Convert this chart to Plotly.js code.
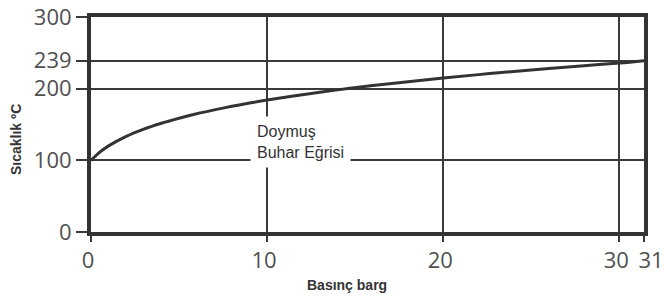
<!DOCTYPE html>
<html><head><meta charset="utf-8">
<script src="https://cdn.plot.ly/plotly-3.0.1.min.js"></script>
<style>html,body{margin:0;padding:0;background:#fff}</style>
</head><body>
<div id="chart" style="width:664px;height:297px"></div>
<script>
// Saturated steam curve
const pressureBarg = [0, 0.5, 1, 2, 3, 4, 5, 6, 7, 8, 9, 10, 12, 14, 16, 18, 20, 22, 24, 26, 28, 30, 31.4];
const temperatureC = [100, 111.4, 120.2, 133.5, 143.6, 151.8, 158.8, 165, 170.4, 175.4, 179.9, 184.1, 191.6, 198.3, 204.3, 209.8, 214.9, 219.6, 224, 228.1, 232, 235.7, 239];
const xTickVals = [0, 10, 20, 30, 31.4];
const xTickText = ["0", "10", "20", "30", ""];
const xEndTickVals = [31.4];
const xEndTickText = ["31"];
const yTickVals = [0, 100, 200, 239, 300];
const yTickText = ["0", "100", "200", "239", "300"];
const lineColor = "#3a3a3a";
const tickFont = {family: "Open Sans", size: 22, color: "#505050"};
const xRange = [0, 31.4];

const curve = {
  x: pressureBarg, y: temperatureC, type: "scatter", mode: "lines",
  line: {color: "#333", width: 3, shape: "spline"}, hoverinfo: "skip"
};
const endHelper = {
  x: [pressureBarg[pressureBarg.length - 1]], y: [temperatureC[temperatureC.length - 1]],
  xaxis: "x2", yaxis: "y", type: "scatter", mode: "markers",
  marker: {opacity: 0, size: 1}, hoverinfo: "skip"
};

const layout = {
  width: 664, height: 297,
  margin: {l: 91, r: 20, t: 17, b: 65},
  paper_bgcolor: "#fff", plot_bgcolor: "#fff",
  showlegend: false,
  xaxis: {
    range: xRange, tickvals: xTickVals, ticktext: xTickText, tickangle: 0,
    showgrid: true, gridcolor: lineColor, gridwidth: 2,
    zeroline: false, showline: true, linecolor: "#333", linewidth: 4, mirror: true,
    ticks: "outside", ticklen: 6, tickwidth: 2, tickcolor: lineColor,
    tickfont: tickFont, ticklabelstandoff: 0, ticklabelshift: -3, ticklabeloverflow: "allow"
  },
  xaxis2: {
    overlaying: "x", anchor: "y", side: "bottom", range: xRange,
    tickvals: xEndTickVals, ticktext: xEndTickText, tickangle: 0,
    showgrid: false, zeroline: false, showline: false,
    ticks: "outside", ticklen: 8, tickwidth: 2, tickcolor: lineColor,
    tickfont: tickFont, ticklabelstandoff: 1, ticklabelshift: 7, ticklabeloverflow: "allow"
  },
  yaxis: {
    range: [0, 300], tickvals: yTickVals, ticktext: yTickText,
    showgrid: true, gridcolor: lineColor, gridwidth: 2,
    zeroline: false, showline: true, linecolor: "#333", linewidth: 4, mirror: true,
    ticks: "outside", ticklen: 11, tickwidth: 2, tickcolor: lineColor,
    tickfont: tickFont, ticklabelstandoff: 0, ticklabeloverflow: "allow"
  },
  annotations: [
    {xref: "x", yref: "y", x: 9.0, y: 125, xanchor: "left", yanchor: "middle",
     text: "Doymuş<br>Buhar Eğrisi", align: "left", showarrow: false,
     font: {family: "Liberation Sans, Arial", size: 16, color: "#333"},
     bgcolor: "#fff", borderpad: 6},
    {xref: "paper", yref: "paper", x: 0.463, y: -0.2465, xanchor: "center", yanchor: "middle",
     text: "<b>Basınç barg</b>", showarrow: false,
     font: {family: "Liberation Sans, Arial", size: 14, color: "#333"}},
    {xref: "paper", yref: "paper", x: -0.1356, y: 0.428, xanchor: "center", yanchor: "middle",
     text: "<b>Sıcaklık ºC</b>", showarrow: false, textangle: -90,
     font: {family: "Liberation Sans, Arial", size: 14, color: "#333"}}
  ]
};

Plotly.newPlot("chart", [curve, endHelper], layout, {displayModeBar: false, staticPlot: true});
</script>
</body></html>
